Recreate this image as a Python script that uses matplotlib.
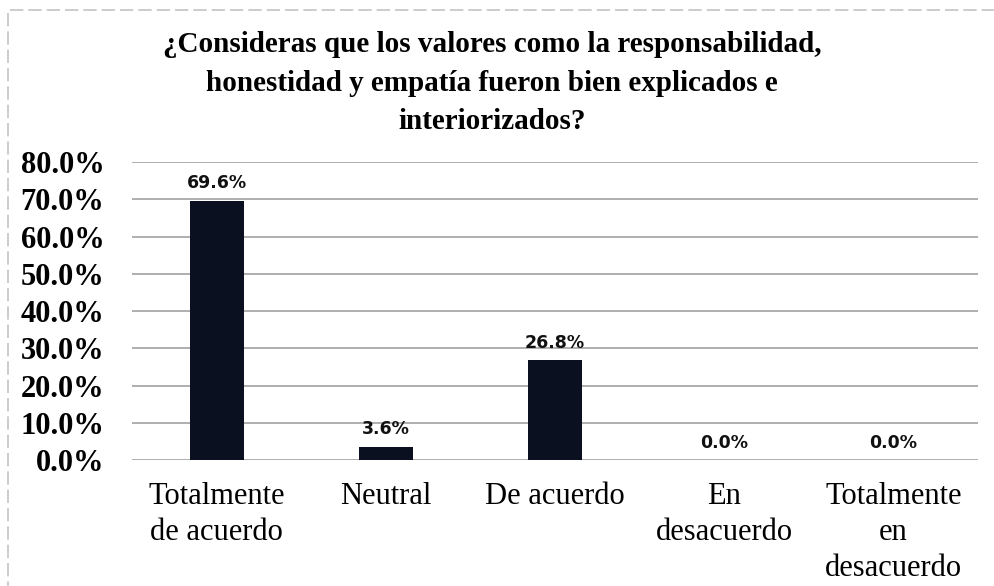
import matplotlib.pyplot as plt
from matplotlib.ticker import FuncFormatter
from matplotlib.patches import Rectangle

categories = ["Totalmente\nde acuerdo", "Neutral", "De acuerdo", "En\ndesacuerdo", "Totalmente\nen\ndesacuerdo"]
values = [69.6, 3.6, 26.8, 0.0, 0.0]
title = "¿Consideras que los valores como la responsabilidad,\nhonestidad y empatía fueron bien explicados e\ninteriorizados?"

fig = plt.figure(figsize=(9.94, 5.86), dpi=100)
ax = fig.add_axes([0.133, 0.215, 0.851, 0.5085])

x = range(len(categories))
bars = ax.bar(x, values, width=0.32, color="#0b1020", zorder=3)

for b, v in zip(bars, values):
    ax.annotate(f"{v:.1f}%", (b.get_x() + b.get_width() / 2, b.get_height()),
                xytext=(0, 6), textcoords="offset points", ha="center", va="bottom",
                fontsize=12.5, fontweight="bold", family="DejaVu Sans", color="#111111")

ax.set_ylim(0, 80)
ax.set_xlim(-0.5, len(categories) - 0.5)
ax.set_yticks(range(0, 81, 10))
ax.yaxis.set_major_formatter(FuncFormatter(lambda v, p: f"{v:.1f}%"))
ax.set_xticks(list(x))
ax.set_xticklabels(categories, family="Liberation Serif", fontsize=22, linespacing=1.32)
for lab in ax.get_yticklabels():
    lab.set_family("Liberation Serif")
    lab.set_fontweight("bold")
    lab.set_fontsize(22)
ax.tick_params(length=0)
ax.tick_params(axis="x", pad=16)
ax.tick_params(axis="y", pad=20)
ax.grid(axis="y", color="#999999", linewidth=1.1, zorder=0)
for s in ax.spines.values():
    s.set_visible(False)

fig.text(0.495, 0.947, title, ha="center", va="top", family="Liberation Serif",
         fontweight="bold", fontsize=21, linespacing=1.55)

fig.patches.append(Rectangle((0.008, -0.05), 1.2, 1.033, transform=fig.transFigure,
                             fill=False, edgecolor="#c4c4c4", linewidth=1.2, linestyle=(0, (8, 3))))

fig.savefig("out.png", dpi=100)
